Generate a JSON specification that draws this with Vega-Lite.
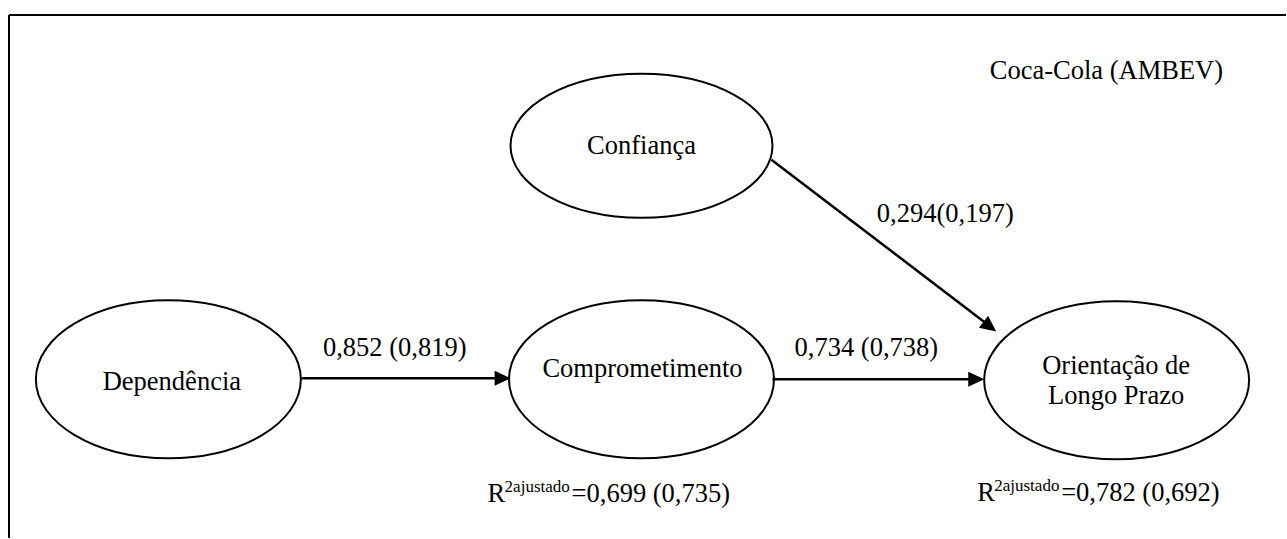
{
  "$schema": "https://vega.github.io/schema/vega-lite/v6.json",
  "width": 1287,
  "height": 539,
  "autosize": {"type": "fit", "contains": "padding"},
  "padding": 0,
  "background": "white",
  "config": {"view": {"stroke": null}, "text": {"font": "Liberation Serif, Times New Roman, serif"}},
  "datasets": {
    "frame": [
      {"part": "top", "x": 9, "y": 15, "x2": 1287, "y2": 15},
      {"part": "left", "x": 9, "y": 15, "x2": 9, "y2": 539}
    ],
    "ellipses": [
      {"name": "Dependência", "x": 168.5, "y": 380},
      {"name": "Comprometimento", "x": 642, "y": 380},
      {"name": "Orientação de Longo Prazo", "x": 1117.5, "y": 381}
    ],
    "conf": [{"name": "Confiança", "x": 642, "y": 146}],
    "arrows": [
      {"from": "Dependência", "to": "Comprometimento", "x": 302, "y": 379, "x2": 503, "y2": 379},
      {"from": "Comprometimento", "to": "Orientação", "x": 773, "y": 380, "x2": 977, "y2": 380},
      {"from": "Confiança", "to": "Orientação", "x": 772, "y": 160, "x2": 991, "y2": 327}
    ],
    "headsH": [
      {"to": "Comprometimento", "x": 511, "y": 379},
      {"to": "Orientação", "x": 985, "y": 380}
    ],
    "headsD": [{"to": "Orientação", "x": 997, "y": 332}],
    "labels": [
      {"text": "Coca-Cola (AMBEV)", "x": 1224, "y": 79, "align": "right"},
      {"text": "Confiança", "x": 642, "y": 154, "align": "center"},
      {"text": "0,294(0,197)", "x": 946, "y": 222, "align": "center"},
      {"text": "0,852 (0,819)", "x": 395, "y": 357, "align": "center"},
      {"text": "0,734 (0,738)", "x": 867, "y": 357, "align": "center"},
      {"text": "Dependência", "x": 172, "y": 391, "align": "center"},
      {"text": "Comprometimento", "x": 643, "y": 378, "align": "center"},
      {"text": "Orientação de", "x": 1117, "y": 375, "align": "center"},
      {"text": "Longo Prazo", "x": 1117, "y": 405, "align": "center"}
    ],
    "rbase": [
      {"text": "R", "x": 488, "y": 503},
      {"text": "=0,699 (0,735)", "x": 572, "y": 503},
      {"text": "R", "x": 978, "y": 502},
      {"text": "=0,782 (0,692)", "x": 1062, "y": 502}
    ],
    "rsup": [
      {"text": "2ajustado", "x": 505, "y": 493},
      {"text": "2ajustado", "x": 995, "y": 492}
    ]
  },
  "layer": [
    {
      "data": {"name": "frame"},
      "mark": {"type": "rule", "color": "black", "strokeWidth": 2},
      "encoding": {
        "x": {"field": "x", "type": "quantitative", "scale": {"domain": [0, 1287]}, "axis": null},
        "y": {"field": "y", "type": "quantitative", "scale": {"domain": [0, 539], "reverse": true}, "axis": null},
        "x2": {"field": "x2"},
        "y2": {"field": "y2"}
      }
    },
    {
      "data": {"name": "ellipses"},
      "mark": {
        "type": "point",
        "filled": false,
        "stroke": "black",
        "strokeWidth": 2,
        "opacity": 1,
        "size": 70225,
        "shape": "M 1 0 C 1 0.3292 0.5523 0.596 0 0.596 C -0.5523 0.596 -1 0.3292 -1 0 C -1 -0.3292 -0.5523 -0.596 0 -0.596 C 0.5523 -0.596 1 -0.3292 1 0 Z"
      },
      "encoding": {
        "x": {"field": "x", "type": "quantitative", "scale": {"domain": [0, 1287]}, "axis": null},
        "y": {"field": "y", "type": "quantitative", "scale": {"domain": [0, 539], "reverse": true}, "axis": null}
      }
    },
    {
      "data": {"name": "conf"},
      "mark": {
        "type": "point",
        "filled": false,
        "stroke": "black",
        "strokeWidth": 2,
        "opacity": 1,
        "size": 68644,
        "shape": "M 1 0 C 1 0.3038 0.5523 0.55 0 0.55 C -0.5523 0.55 -1 0.3038 -1 0 C -1 -0.3038 -0.5523 -0.55 0 -0.55 C 0.5523 -0.55 1 -0.3038 1 0 Z"
      },
      "encoding": {
        "x": {"field": "x", "type": "quantitative", "scale": {"domain": [0, 1287]}, "axis": null},
        "y": {"field": "y", "type": "quantitative", "scale": {"domain": [0, 539], "reverse": true}, "axis": null}
      }
    },
    {
      "data": {"name": "arrows"},
      "mark": {"type": "rule", "color": "black", "strokeWidth": 2.5},
      "encoding": {
        "x": {"field": "x", "type": "quantitative", "scale": {"domain": [0, 1287]}, "axis": null},
        "y": {"field": "y", "type": "quantitative", "scale": {"domain": [0, 539], "reverse": true}, "axis": null},
        "x2": {"field": "x2"},
        "y2": {"field": "y2"}
      }
    },
    {
      "data": {"name": "headsH"},
      "mark": {"type": "point", "filled": true, "color": "black", "opacity": 1, "size": 1024, "shape": "M 0 0 L -1 -0.47 L -1 0.47 Z"},
      "encoding": {
        "x": {"field": "x", "type": "quantitative", "scale": {"domain": [0, 1287]}, "axis": null},
        "y": {"field": "y", "type": "quantitative", "scale": {"domain": [0, 539], "reverse": true}, "axis": null}
      }
    },
    {
      "data": {"name": "headsD"},
      "mark": {"type": "point", "filled": true, "color": "black", "opacity": 1, "size": 1024, "angle": 37.4, "shape": "M 0 0 L -1 -0.47 L -1 0.47 Z"},
      "encoding": {
        "x": {"field": "x", "type": "quantitative", "scale": {"domain": [0, 1287]}, "axis": null},
        "y": {"field": "y", "type": "quantitative", "scale": {"domain": [0, 539], "reverse": true}, "axis": null}
      }
    },
    {
      "data": {"name": "labels"},
      "transform": [{"filter": "datum.align === 'center'"}],
      "mark": {"type": "text", "font": "Liberation Serif", "fontSize": 26.5, "color": "black", "baseline": "alphabetic", "align": "center"},
      "encoding": {
        "x": {"field": "x", "type": "quantitative", "scale": {"domain": [0, 1287]}, "axis": null},
        "y": {"field": "y", "type": "quantitative", "scale": {"domain": [0, 539], "reverse": true}, "axis": null},
        "text": {"field": "text"}
      }
    },
    {
      "data": {"name": "labels"},
      "transform": [{"filter": "datum.align === 'right'"}],
      "mark": {"type": "text", "font": "Liberation Serif", "fontSize": 26.5, "color": "black", "baseline": "alphabetic", "align": "right"},
      "encoding": {
        "x": {"field": "x", "type": "quantitative", "scale": {"domain": [0, 1287]}, "axis": null},
        "y": {"field": "y", "type": "quantitative", "scale": {"domain": [0, 539], "reverse": true}, "axis": null},
        "text": {"field": "text"}
      }
    },
    {
      "data": {"name": "rbase"},
      "mark": {"type": "text", "font": "Liberation Serif", "fontSize": 26.5, "color": "black", "baseline": "alphabetic", "align": "left"},
      "encoding": {
        "x": {"field": "x", "type": "quantitative", "scale": {"domain": [0, 1287]}, "axis": null},
        "y": {"field": "y", "type": "quantitative", "scale": {"domain": [0, 539], "reverse": true}, "axis": null},
        "text": {"field": "text"}
      }
    },
    {
      "data": {"name": "rsup"},
      "mark": {"type": "text", "font": "Liberation Serif", "fontSize": 17, "color": "black", "baseline": "alphabetic", "align": "left"},
      "encoding": {
        "x": {"field": "x", "type": "quantitative", "scale": {"domain": [0, 1287]}, "axis": null},
        "y": {"field": "y", "type": "quantitative", "scale": {"domain": [0, 539], "reverse": true}, "axis": null},
        "text": {"field": "text"}
      }
    }
  ]
}
